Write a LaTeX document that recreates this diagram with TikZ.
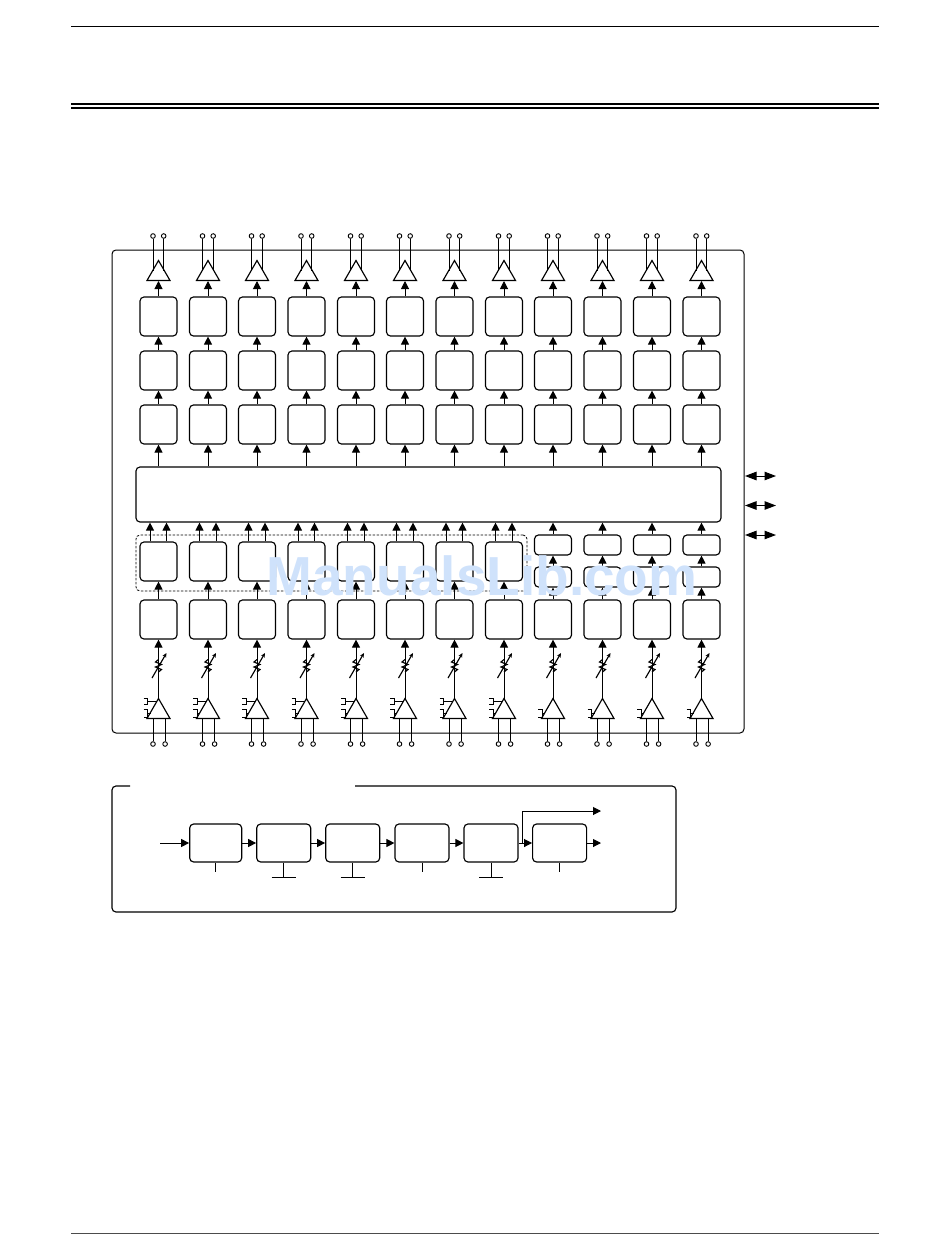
\documentclass[tikz,border=0pt]{standalone}
\usepackage{fontspec}
\usepackage{tikz}
\usetikzlibrary{arrows.meta,shapes.geometric,positioning,calc}
\definecolor{wmblue}{HTML}{CFE2FB}

\begin{document}
\begin{tikzpicture}[
    x=1pt, y=-1pt,
    line width=1.15pt,
    blk/.style={draw, rounded corners=4pt, minimum width=37pt, minimum height=39pt, inner sep=0pt},
    smallblk/.style={blk, minimum height=20pt},
    stage/.style={blk, minimum height=38pt},
    amp/.style={draw, isosceles triangle, isosceles triangle stretches, shape border rotate=90, minimum width=23pt, minimum height=20pt, inner sep=0pt, outer sep=0pt, anchor=apex},
    term/.style={draw, circle, fill=white, line width=0.9pt, inner sep=0pt, minimum size=4.6pt},
    wire/.style={line width=0.9pt},
    arr/.style={line width=1pt, -{Triangle[length=8pt,width=8pt]}},
    bidir/.style={line width=1pt, {Triangle[length=11.5pt,width=8.5pt]}-{Triangle[length=11.5pt,width=8.5pt]}}
]
\useasboundingbox (0,0) rectangle (950,1260);

% page rules
\draw[line width=1pt] (71,26.5) -- (879,26.5);
\draw[line width=2pt] (71,104) -- (879,104);
\draw[line width=2pt] (71,108.5) -- (879,108.5);
\draw[black!70, line width=1pt] (71,1233) -- (879,1233);

% outer frame
\draw[rounded corners=4pt, line width=1pt] (112,250) rectangle (744,733);

\node[blk, minimum width=585pt, minimum height=55pt] (bus) at (428.5,494.5) {};
\node[draw, line width=0.8pt, dash pattern=on 2.5pt off 1.5pt, rounded corners=4pt, minimum width=391pt, minimum height=56pt] (grp) at (331.5,563) {};

% all channels
\foreach \xx [count=\n] in {158.5,208,257,306.5,356,405,454.5,504,553,602.5,652,701.5} {
    \node[amp] (oamp\n) at (\xx,260.5) {};
    \node[term] (ota\n) at (\xx-5.5,236) {};
    \node[term] (otb\n) at (\xx+5.2,236) {};
    \node[blk] (ra\n) at (\xx,316.5) {};
    \node[blk] (rb\n) at (\xx,370.5) {};
    \node[blk] (rc\n) at (\xx,424.5) {};
    \node[blk] (low\n) at (\xx,619.5) {};
    \node[amp] (iamp\n) at (\xx,698.5) {};
    \node[term] (ita\n) at (\xx-5.5,744) {};
    \node[term] (itb\n) at (\xx+6.6,744) {};
    \coordinate (ohit\n) at (\xx,270.5);
    \coordinate (obase\n) at (\xx,281);
    \coordinate (ibase\n) at (\xx,719);

    \draw[wire] (ota\n) -- (ota\n |- ohit\n);
    \draw[wire] (otb\n) -- (otb\n |- ohit\n);
    \draw[arr] (ra\n) -- (obase\n);
    \draw[arr] (rb\n) -- (ra\n);
    \draw[arr] (rc\n) -- (rb\n);
    \draw[arr] (rc\n |- bus.north) -- (rc\n);
    \draw[wire] (ita\n) -- (ita\n |- ibase\n);
    \draw[wire] (itb\n) -- (itb\n |- ibase\n);
    \draw[arr] (iamp\n.apex) -- (low\n);

    % variable attenuator
    \coordinate (att\n) at (\xx,666);
    \draw ([shift={(0,6)}]att\n) -- ++(3,-2.5) -- ++(-6,-2.5) -- ++(6,-2.5) -- ++(-6,-2.5) -- ++(3,-2.5);
    \draw[-{Stealth[length=4.5pt,width=4pt]}] ([shift={(-6.5,12)}]att\n) -- ([shift={(8,-13)}]att\n);

    % lower control bracket
    \coordinate (brb\n) at (\xx-11,713);
    \draw[wire] (\xx-15,709) -| (\xx-11,717) -- (\xx-15,717);
    \draw[wire] (brb\n) -- (\xx-8,713);
}

% channels with the large block
\foreach \xx [count=\n] in {158.5,208,257,306.5,356,405,454.5,504} {
    \node[blk] (mid\n) at (\xx,561.5) {};
    \coordinate (bra\n) at (\xx-11,701.5);
    \draw[wire] (\xx-15,698.5) -| (\xx-11,704.5) -- (\xx-15,704.5);
    \draw[wire] (bra\n) -- (\xx-2,701.5);
    \draw[arr] (low\n) -- (mid\n);
    \draw[arr] ([xshift=-8.5pt]mid\n.north) -- ([xshift=-8.5pt]mid\n.north |- bus.south);
    \draw[arr] ([xshift=8pt]mid\n.north) -- ([xshift=8pt]mid\n.north |- bus.south);
}

% channels with the two small blocks
\foreach \xx/\n in {553/9,602.5/10,652/11,701.5/12} {
    \node[smallblk] (sa\n) at (\xx,577) {};
    \node[smallblk] (sb\n) at (\xx,545) {};
    \draw[arr] (low\n) -- (sa\n);
    \draw[arr] (sa\n) -- (sb\n);
    \draw[arr] (sb\n) -- (sb\n |- bus.south);
}

% arrows at the right edge
\foreach \yy/\n in {476/1,505.5/2,535/3} {
    \coordinate (ba\n) at (745,\yy);
    \coordinate (bb\n) at (776,\yy);
    \draw[bidir] (ba\n) -- (bb\n);
}

% lower frame, open along the top
\draw[rounded corners=4pt] (130,786) -- (112,786) -- (112,912) -- (676,912) -- (676,786) -- (355,786);

\node[stage, minimum width=52pt] (st1) at (215.7,843) {};
\node[stage, minimum width=54pt] (st2) at (283.7,843) {};
\node[stage, minimum width=54pt] (st3) at (352.7,843) {};
\node[stage, minimum width=54pt] (st4) at (422,843) {};
\node[stage, minimum width=54pt] (st5) at (491,843) {};
\node[stage, minimum width=54pt] (st6) at (559.6,843) {};

\coordinate (inp) at (160,843);
\coordinate (tap) at (522,843);
\coordinate (outa) at (601,811);
\coordinate (outb) at (601,843);

\draw[arr] (inp) -- (st1);
\foreach \a/\b in {st1/st2,st2/st3,st3/st4,st4/st5,st5/st6} {
    \draw[arr] (\a) -- (\b);
}
\draw[arr] (st6) -- (outb);
\draw[arr] (tap) |- (outa);

\foreach \a in {st1,st4,st6} {
    \draw[line width=1pt] (\a.south) -- ++(0,9.5);
}
\foreach \a in {st2,st3,st5} {
    \draw[line width=1pt] (\a.south) -- ++(0,15) coordinate (gnd\a);
    \draw[line width=1pt] ([xshift=-12pt]gnd\a) -- ([xshift=12pt]gnd\a);
}

\node[font=\fontspec{Liberation Sans}\bfseries\fontsize{55}{55}\selectfont, text=wmblue, inner sep=0pt] (wmark) at (482,576) {ManualsLib.com};
\end{tikzpicture}
\end{document}
